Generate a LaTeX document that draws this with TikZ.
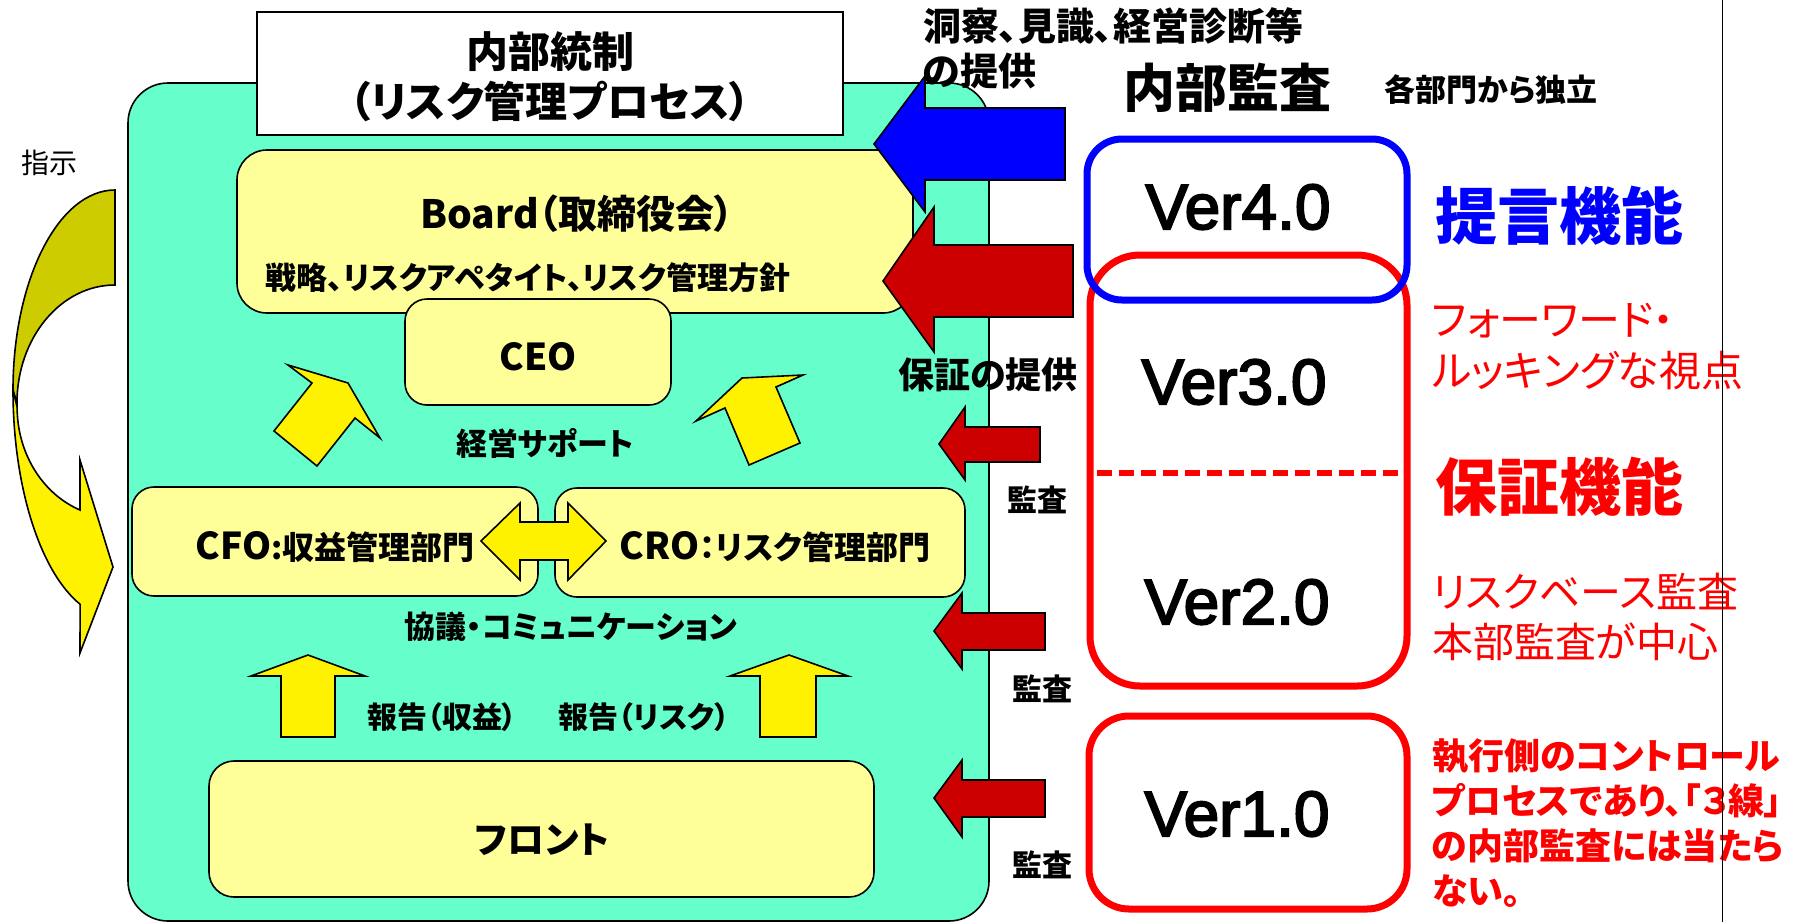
\documentclass[tikz,border=0pt]{standalone}
\usepackage{fontspec}
\setmainfont{Noto Sans CJK JP}[RawFeature=+palt]
\newfontfamily\verfont{Liberation Sans}[RawFeature={embolden=3}]
\newcommand{\fsz}[2]{\fontsize{#1}{#2}\selectfont}
\definecolor{mintfill}{HTML}{66FFCC}
\definecolor{paleyellow}{HTML}{FFFF99}
\definecolor{olivefill}{HTML}{CCCC00}
\definecolor{auditred}{HTML}{CC0000}

\begin{document}
\begin{tikzpicture}[x=1pt,y=-1pt]
    \tikzstyle{every node}=[inner sep=0pt, outer sep=0pt]
    \tikzstyle{blk}=[draw, line width=1.6pt, line join=miter]
    \tikzstyle{ybox}=[rectangle, draw, line width=1.6pt, fill=paleyellow, rounded corners=22pt]
    \tikzstyle{verbox}=[rectangle, draw=red, line width=7pt, rounded corners=45pt]
    \tikzstyle{verlbl}=[font={\verfont\fsz{64}{64}}]
    \tikzstyle{audit}=[font={\bfseries\fsz{30}{30}}]
    \tikzstyle{note}=[anchor=west, align=left, text=red]

    \useasboundingbox (0,0) rectangle (1807,922);

    % curved arrow on the left
    \draw[blk, fill=olivefill] (115,190) arc[start angle=-90, end angle=-180, x radius=102, y radius=200]
        -- (17,403) arc[start angle=180, end angle=270, x radius=98, y radius=118] -- cycle;
    \draw[blk, fill=yellow] (13,390) arc[start angle=180, end angle=110, x radius=102, y radius=228]
        -- (80,653) -- (113,567) -- (80,460) -- (80,510)
        arc[start angle=111, end angle=180, x radius=98, y radius=110] -- cycle;
    \node[font=\fsz{28}{28}] (order) at (49,163) {指示};

    % internal control block
    \node[ybox, fill=mintfill, rounded corners=40pt, minimum width=861pt, minimum height=838pt] (ctrl) at (558.5,502) {};
    \node[draw, line width=1.6pt, fill=white, minimum width=586pt, minimum height=123pt] (title) at (550,73.5) {};
    \node[align=center, font={\bfseries\fsz{42}{50}}] (titletxt) at (550,77) {内部統制\\（リスク管理プロセス）};

    \node[ybox, rounded corners=30pt, minimum width=676pt, minimum height=163pt] (board) at (575,231.5) {};
    \node[font={\bfseries\fsz{39}{39}}] (boardtxt) at (577,214) {Board（取締役会）};
    \node[font={\bfseries\fsz{31}{31}}] (policy) at (528,278) {戦略、リスクアペタイト、リスク管理方針};

    % insight and assurance arrows
    \draw[blk, fill=blue] (874,144) -- (925,76) -- (925,108) -- (1065,108) -- (1065,180)
        -- (925,180) -- (925,212) -- cycle;
    \draw[blk, fill=auditred] (883,281) -- (934,207) -- (934,245) -- (1073,245) -- (1073,317)
        -- (934,317) -- (934,352) -- cycle;

    \node[ybox, minimum width=266pt, minimum height=106pt] (ceo) at (538,352) {};
    \node[font={\bfseries\fsz{37}{37}}] (ceotxt) at (538,357) {CEO};

    % management support
    \draw[blk, fill=yellow] (288,365) -- (348,383) -- (380,438) -- (355,418) -- (317,466)
        -- (274,431) -- (312,383) -- cycle;
    \draw[blk, fill=yellow] (803,375) -- (776,387) -- (800,443) -- (749,465) -- (725,408)
        -- (696,421) -- (742,378) -- cycle;
    \node[font={\bfseries\fsz{31}{31}}] (support) at (545,443) {経営サポート};

    \node[ybox, minimum width=406pt, minimum height=109pt] (cfo) at (335,541.5) {};
    \node[ybox, minimum width=410pt, minimum height=109pt] (cro) at (760,542.5) {};
    \node[font={\bfseries\fsz{32}{32}}] (cfotxt) at (335,547) {{\fsz{37}{37}CFO}:収益管理部門};
    \node[font={\bfseries\fsz{32}{32}}] (crotxt) at (775,547) {{\fsz{37}{37}CRO}：リスク管理部門};
    \draw[blk, fill=yellow] (481,541) -- (520,503) -- (520,522) -- (568,522) -- (568,503) -- (606,541)
        -- (568,580) -- (568,560) -- (520,560) -- (520,580) -- cycle;
    \node[font={\bfseries\fsz{31}{31}}] (talk) at (571,627) {協議・コミュニケーション};

    % reports
    \draw[blk, fill=yellow] (308,655) -- (365,676) -- (335,676) -- (335,737) -- (281,737)
        -- (281,676) -- (251,676) -- cycle;
    \draw[blk, fill=yellow] (789,655) -- (848,676) -- (816,676) -- (816,737) -- (760,737)
        -- (760,676) -- (730,676) -- cycle;
    \node[font={\bfseries\fsz{30}{30}}] (repprofit) at (442,717) {報告（収益）};
    \node[font={\bfseries\fsz{30}{30}}] (reprisk) at (644,717) {報告（リスク）};

    \node[ybox, rounded corners=25pt, minimum width=665pt, minimum height=136pt] (front) at (541.5,829) {};
    \node[font={\bfseries\fsz{37}{37}}] (fronttxt) at (542,840) {フロント};

    % audit arrows
    \draw[blk, fill=auditred] (939,444) -- (965,407) -- (965,427) -- (1040,427) -- (1040,462)
        -- (965,462) -- (965,480) -- cycle;
    \draw[blk, fill=auditred] (934,631) -- (962,593) -- (962,613) -- (1045,613) -- (1045,650)
        -- (962,650) -- (962,669) -- cycle;
    \draw[blk, fill=auditred] (934,798) -- (962,760) -- (962,780) -- (1045,780) -- (1045,817)
        -- (962,817) -- (962,837) -- cycle;
    \node[audit] (audit1) at (1037,500) {監査};
    \node[audit] (audit2) at (1042,689) {監査};
    \node[audit] (audit3) at (1042,865) {監査};

    \node[anchor=west, align=left, font={\bfseries\fsz{38}{45}}] (insight) at (923,48.5) {洞察、見識、経営診断等\\の提供};
    \node[font={\bfseries\fsz{36}{36}}] (assure) at (988,375) {保証の提供};

    % internal audit
    \node[font={\bfseries\fsz{52}{52}}] (ia) at (1227,88) {内部監査};
    \node[font={\bfseries\fsz{31}{31}}] (indep) at (1491,90) {各部門から独立};

    \node[verbox, minimum width=317pt, minimum height=431pt, rounded corners=50pt] (v32) at (1248.5,470.5) {};
    \node[verbox, minimum width=318pt, minimum height=193pt, rounded corners=40pt] (v1) at (1248,812.5) {};
    \node[verbox, draw=blue, minimum width=320pt, minimum height=161pt, rounded corners=35pt] (v4) at (1247,219.5) {};
    \coordinate (dl) at (1097,473);
    \coordinate (dr) at (1400,473);
    \draw[red, line width=6pt, dash pattern=on 15pt off 7pt] (dl) -- (dr);

    \node[verlbl] (ver4) at (1238,207) {Ver4.0};
    \node[verlbl] (ver3) at (1234,382) {Ver3.0};
    \node[verlbl] (ver2) at (1237,602) {Ver2.0};
    \node[verlbl] (ver1) at (1237,814) {Ver1.0};

    \node[anchor=west, text=blue, font={\bfseries\fsz{62}{62}}] (advise) at (1435,216) {提言機能};
    \node[anchor=west, text=red, font={\bfseries\fsz{62}{62}}] (assurefn) at (1435,487) {保証機能};
    \node[note, font={\fsz{42}{51}}] (forward) at (1432,346.5) {フォーワード・\\ルッキングな視点};
    \node[note, font={\fsz{41}{50}}] (riskbase) at (1432,617) {リスクベース監査\\本部監査が中心};
    \node[note, font={\bfseries\fsz{36}{45}}] (exec) at (1432,823) {執行側のコントロール\\プロセスであり、「３線」\\の内部監査には当たら\\ない。};

    \coordinate (rtop) at (1722,0);
    \coordinate (rbot) at (1722,922);
    \draw[line width=1pt] (rtop) -- (rbot);
\end{tikzpicture}
\end{document}
